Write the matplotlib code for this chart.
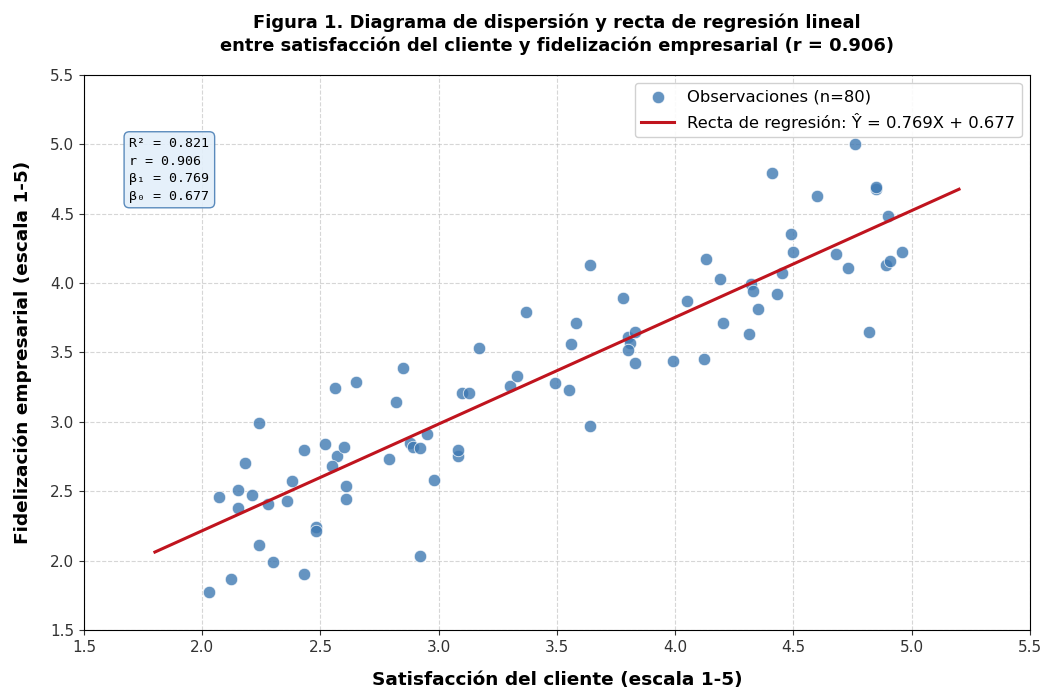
import numpy as np
import matplotlib
matplotlib.use("Agg")
import matplotlib.pyplot as plt

# Datos: satisfaccion (X) y fidelizacion (Y)
satisfaccion = [
    2.03, 2.12, 2.07, 2.15, 2.15, 2.18, 2.21, 2.24, 2.24, 2.28,
    2.30, 2.36, 2.38, 2.43, 2.43, 2.48, 2.48, 2.52, 2.57, 2.55,
    2.56, 2.60, 2.61, 2.61, 2.65, 2.79, 2.82, 2.85, 2.88, 2.89,
    2.92, 2.95, 2.92, 2.98, 3.08, 3.08, 3.10, 3.13, 3.17, 3.30,
    3.33, 3.37, 3.49, 3.55, 3.56, 3.58, 3.64, 3.64, 3.78, 3.80,
    3.81, 3.80, 3.83, 3.83, 3.99, 4.05, 4.12, 4.13, 4.19, 4.20,
    4.31, 4.32, 4.33, 4.35, 4.41, 4.43, 4.45, 4.49, 4.50, 4.60,
    4.68, 4.73, 4.76, 4.82, 4.85, 4.85, 4.89, 4.91, 4.90, 4.96,
]
fidelizacion = [
    1.77, 1.87, 2.46, 2.51, 2.38, 2.70, 2.47, 2.99, 2.11, 2.41,
    1.99, 2.43, 2.57, 2.80, 1.90, 2.24, 2.21, 2.84, 2.75, 2.68,
    3.24, 2.82, 2.54, 2.44, 3.29, 2.73, 3.14, 3.39, 2.85, 2.82,
    2.81, 2.91, 2.03, 2.58, 2.75, 2.80, 3.21, 3.21, 3.53, 3.26,
    3.33, 3.79, 3.28, 3.23, 3.56, 3.71, 2.97, 4.13, 3.89, 3.61,
    3.57, 3.52, 3.65, 3.42, 3.44, 3.87, 3.45, 4.17, 4.03, 3.71,
    3.63, 3.99, 3.94, 3.81, 4.79, 3.92, 4.07, 4.35, 4.22, 4.63,
    4.21, 4.11, 5.00, 3.65, 4.68, 4.69, 4.13, 4.16, 4.48, 4.22,
]

pendiente = 0.769
intercepto = 0.677
r2 = 0.821
r = 0.906
x_linea = [1.8, 5.2]

fig, ax = plt.subplots(figsize=(10.43, 6.93), dpi=100)
fig.subplots_adjust(left=0.0805, right=0.9875, top=0.892, bottom=0.091)

ax.scatter(satisfaccion, fidelizacion, s=80, color="#3f79b2", alpha=0.8,
           edgecolors="white", linewidths=0.6, zorder=3,
           label=f"Observaciones (n={len(satisfaccion)})")

xl = np.linspace(x_linea[0], x_linea[1], 100)
ax.plot(xl, pendiente * xl + intercepto, color="#c0141e", linewidth=2.2, zorder=4,
        label=f"Recta de regresión: Ŷ = {pendiente:.3f}X + {intercepto:.3f}")

ax.set_xlim(1.5, 5.5)
ax.set_ylim(1.5, 5.5)
ax.set_xticks(np.arange(1.5, 5.51, 0.5))
ax.set_yticks(np.arange(1.5, 5.51, 0.5))
ax.grid(True, linestyle="--", color="#bbbbbb", alpha=0.6, linewidth=0.8)
ax.tick_params(labelsize=11, colors="#333333")

ax.set_xlabel("Satisfacción del cliente (escala 1-5)", fontsize=13.3, fontweight="bold", labelpad=12)
ax.set_ylabel("Fidelización empresarial (escala 1-5)", fontsize=13.3, fontweight="bold", labelpad=13)
ax.set_title("Figura 1. Diagrama de dispersión y recta de regresión lineal\n"
             "entre satisfacción del cliente y fidelización empresarial (r = 0.906)",
             fontsize=12.9, fontweight="bold", pad=17, linespacing=1.3)

stats = f"R² = {r2:.3f}\nr = {r:.3f}\nβ₁ = {pendiente:.3f}\nβ₀ = {intercepto:.3f}"
ax.text(0.048, 0.888, stats, transform=ax.transAxes, fontsize=9.5, family="monospace",
        va="top", ha="left", linespacing=1.45,
        bbox=dict(boxstyle="round,pad=0.4", facecolor="#e3effa", edgecolor="#4a7fb5", alpha=0.9))

ax.legend(loc="upper right", fontsize=11.8, framealpha=0.9)

plt.savefig("out.png")
